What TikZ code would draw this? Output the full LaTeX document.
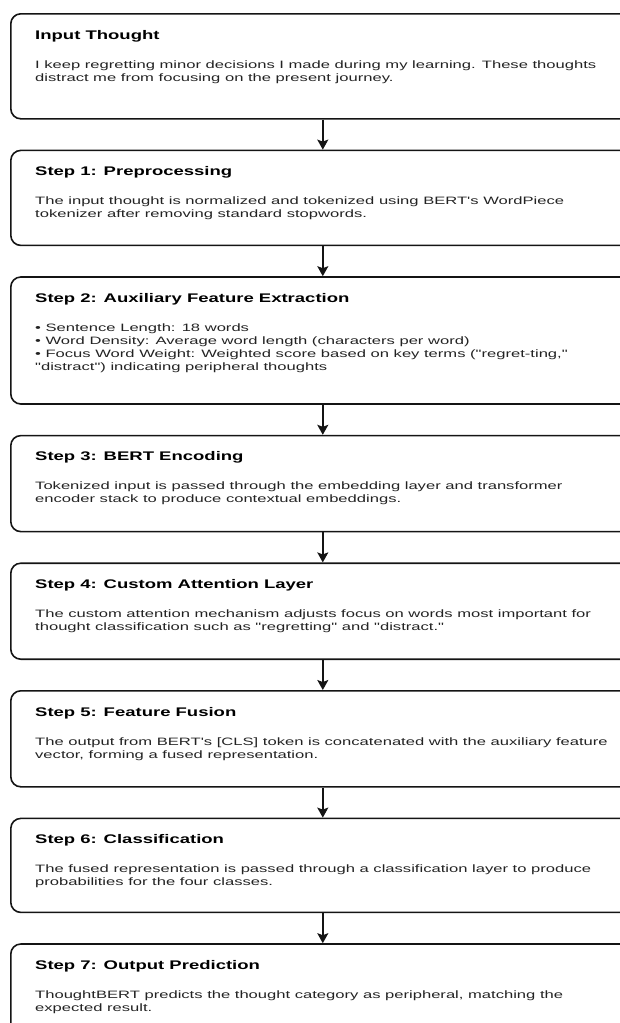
\documentclass[tikz,border=0pt]{standalone}
\usepackage{fontspec}
\newfontfamily\boxfont{Liberation Sans}[FakeStretch=1.55]
\newfontfamily\titlefont{Liberation Sans Bold}[FakeStretch=1.48]
\usetikzlibrary{positioning,arrows.meta}
\definecolor{boxLine}{RGB}{20,20,20}
\definecolor{bodyText}{RGB}{35,35,35}

\begin{document}
\begin{tikzpicture}[
  node distance=30pt,
  stepbox/.style={rectangle,draw=boxLine,line width=1.6pt,rounded corners=10pt,minimum width=624pt},
  title/.style={font=\titlefont\fontsize{12.5}{15}\selectfont,anchor=base west,inner sep=0pt},
  body/.style={font=\boxfont\fontsize{10.7}{13}\selectfont,text=bodyText,align=left,anchor=base west,inner sep=0pt},
  flow/.style={-{Stealth[length=10pt,width=11pt,inset=2pt]},line width=1.6pt,draw=boxLine}
]
\useasboundingbox (0,0) rectangle (620pt,-1023pt);

% Input
\node[stepbox,minimum height=105pt,anchor=north west] (input) at (10pt,-13pt) {};
\node[title] (inputT) at ([shift={(25pt,-26pt)}]input.north west) {Input Thought};
\node[body] (inputB) at ([shift={(25pt,-68pt)}]input.north west) {I keep regretting minor decisions I made during my learning. These thoughts\\distract me from focusing on the present journey.};

% Step 1
\node[stepbox,minimum height=95pt,below=of input] (prep) {};
\node[title] (prepT) at ([shift={(25pt,-26pt)}]prep.north west) {Step 1: Preprocessing};
\node[body] (prepB) at ([shift={(25pt,-68pt)}]prep.north west) {The input thought is normalized and tokenized using BERT's WordPiece\\tokenizer after removing standard stopwords.};

% Step 2 (four lines, base is the last one)
\node[stepbox,minimum height=127pt,below=of prep] (aux) {};
\node[title] (auxT) at ([shift={(25pt,-26pt)}]aux.north west) {Step 2: Auxiliary Feature Extraction};
\node[body] (auxB) at ([shift={(25pt,-94pt)}]aux.north west) {• Sentence Length: 18 words\\• Word Density: Average word length (characters per word)\\• Focus Word Weight: Weighted score based on key terms ("regret-ting,"\\"distract") indicating peripheral thoughts};

% Step 3
\node[stepbox,minimum height=96pt,below=of aux] (enc) {};
\node[title] (encT) at ([shift={(25pt,-26pt)}]enc.north west) {Step 3: BERT Encoding};
\node[body] (encB) at ([shift={(25pt,-68pt)}]enc.north west) {Tokenized input is passed through the embedding layer and transformer\\encoder stack to produce contextual embeddings.};

% Step 4
\node[stepbox,minimum height=96pt,below=of enc] (att) {};
\node[title] (attT) at ([shift={(25pt,-26pt)}]att.north west) {Step 4: Custom Attention Layer};
\node[body] (attB) at ([shift={(25pt,-68pt)}]att.north west) {The custom attention mechanism adjusts focus on words most important for\\thought classification such as "regretting" and "distract."};

% Step 5
\node[stepbox,minimum height=96pt,below=of att] (fuse) {};
\node[title] (fuseT) at ([shift={(25pt,-26pt)}]fuse.north west) {Step 5: Feature Fusion};
\node[body] (fuseB) at ([shift={(25pt,-68pt)}]fuse.north west) {The output from BERT's [CLS] token is concatenated with the auxiliary feature\\vector, forming a fused representation.};

% Step 6
\node[stepbox,minimum height=94pt,below=of fuse] (cls) {};
\node[title] (clsT) at ([shift={(25pt,-26pt)}]cls.north west) {Step 6: Classification};
\node[body] (clsB) at ([shift={(25pt,-68pt)}]cls.north west) {The fused representation is passed through a classification layer to produce\\probabilities for the four classes.};

% Step 7
\node[stepbox,minimum height=96pt,below=of cls] (out) {};
\node[title] (outT) at ([shift={(25pt,-26pt)}]out.north west) {Step 7: Output Prediction};
\node[body] (outB) at ([shift={(25pt,-68pt)}]out.north west) {ThoughtBERT predicts the thought category as peripheral, matching the\\expected result.};

% arrows
\draw[flow] (input) -- (prep);
\draw[flow] (prep) -- (aux);
\draw[flow] (aux) -- (enc);
\draw[flow] (enc) -- (att);
\draw[flow] (att) -- (fuse);
\draw[flow] (fuse) -- (cls);
\draw[flow] (cls) -- (out);
\end{tikzpicture}
\end{document}
